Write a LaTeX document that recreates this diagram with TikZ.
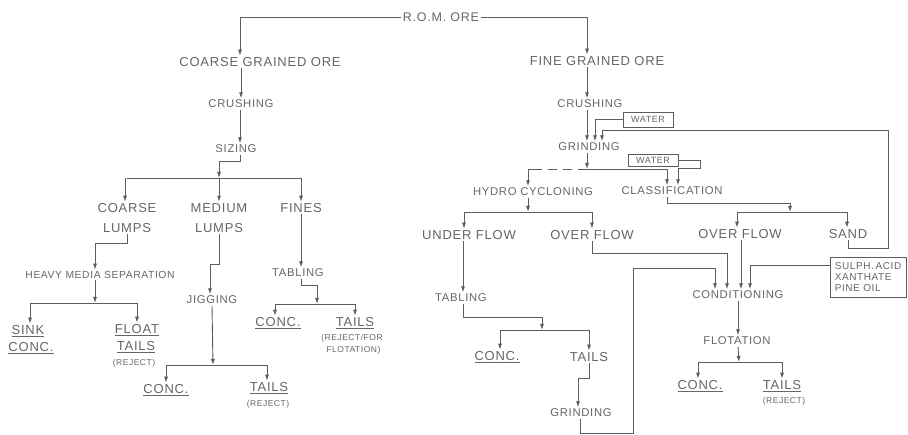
\documentclass[tikz,border=0pt]{standalone}
\usepackage{fontspec}
\setmainfont[LetterSpace=6]{Liberation Sans}
\usetikzlibrary{arrows.meta}
\definecolor{ink}{HTML}{5C5C5C}
\definecolor{txt}{HTML}{666666}
\begin{document}
\begin{tikzpicture}[x=1pt,y=-1pt,
  line/.style={draw=ink, line width=0.9pt},
  arr/.style={line, -{Latex[length=6pt,width=4pt]}},
  big/.style={text=txt, inner sep=1.5pt, align=center, font=\fontsize{13}{20}\selectfont},
  med/.style={text=txt, inner sep=1.5pt, font=\fontsize{11.3}{12}\selectfont},
  sml/.style={text=txt, inner sep=1pt, align=center, font=\fontsize{8.5}{12}\selectfont},
  wbox/.style={draw=ink, line width=0.9pt, text=txt, font=\fontsize{9}{11}\selectfont, inner sep=2pt}
]
\useasboundingbox[fill=white] (0,0) rectangle (908,435);

% ---------- nodes ----------
\node[med, font=\fontsize{12.5}{13}\selectfont] (rom) at (441,17) {R.O.M. ORE};
\node[big] (cgo) at (260,62) {COARSE GRAINED ORE};
\node[med] (crushL) at (241,104) {CRUSHING};
\node[med] (sizing) at (236,149) {SIZING};
\node[big] (coarse) at (127,218) {COARSE\\LUMPS};
\node[big] (medium) at (219,218) {MEDIUM\\LUMPS};
\node[big] (fines) at (301,208) {FINES};
\node[med, font=\fontsize{10.3}{12}\selectfont] (hms) at (100,275) {HEAVY MEDIA SEPARATION};
\node[big] (sink) at (28,331) {\underline{SINK}};
\node[big] (sinkconc) at (31,348) {\underline{CONC.}};
\node[big] (float) at (137,330) {\underline{FLOAT}};
\node[big] (floattails) at (136,347) {\underline{TAILS}};
\node[sml] (floatrej) at (134,363) {(REJECT)};
\node[med] (jigging) at (212,300) {JIGGING};
\node[big] (conc1) at (166,390) {\underline{CONC.}};
\node[big] (tails1) at (269,388) {\underline{TAILS}};
\node[sml] (rej1) at (268,404) {(REJECT)};
\node[med] (tabling1) at (298,273) {TABLING};
\node[big] (conc2) at (278,323) {\underline{CONC.}};
\node[big] (tails2) at (355,323) {\underline{TAILS}};
\node[sml] (rejfor) at (352,344) {(REJECT/FOR\\\ FLOTATION)};

\node[big] (fgo) at (597,61) {FINE GRAINED ORE};
\node[med] (crushR) at (590,104) {CRUSHING};
\node[wbox, minimum width=50pt, minimum height=15pt] (water1) at (648,119.5) {WATER};
\node[med] (grindR) at (589,147) {GRINDING};
\node[wbox, minimum width=50pt, minimum height=12pt, inner sep=1pt] (water2) at (653,160) {WATER};
\node[med] (hydro) at (533,192) {HYDRO CYCLONING};
\node[med] (classif) at (672,191) {CLASSIFICATION};
\node[big] (under) at (469,235) {UNDER FLOW};
\node[big] (overH) at (592,235) {OVER FLOW};
\node[big] (overC) at (740,234) {OVER FLOW};
\node[big] (sand) at (848,234) {SAND};
\node[med] (tabling2) at (461,298) {TABLING};
\node[big] (conc3) at (497,357) {\underline{CONC.}};
\node[big] (tails3) at (589,357) {TAILS};
\node[med] (grind2) at (581,413) {GRINDING};
\node[med] (cond) at (738,295) {CONDITIONING};
\node[wbox, align=left, minimum width=76pt, minimum height=40pt, font=\fontsize{10}{11}\selectfont] (chem) at (868,277) {SULPH.\,ACID\\XANTHATE\\PINE OIL};
\node[med] (flot2) at (737,341) {FLOTATION};
\node[big] (conc4) at (700,386) {\underline{CONC.}};
\node[big] (tails4) at (782,386) {\underline{TAILS}};
\node[sml] (rej4) at (784,401) {(REJECT)};

% ---------- junction coordinates ----------
\coordinate (sizebar) at (219,178);
\coordinate (hmsbar) at (95,303);
\coordinate (jigbar) at (213,365);
\coordinate (tabbar) at (317,304);
\coordinate (gj) at (587,169);
\coordinate (clbar) at (790,212);
\coordinate (hybar) at (528,212);
\coordinate (tabbar2) at (542,330);
\coordinate (flbar) at (739,362);
\coordinate (recyc) at (888,130);
\coordinate (gloop) at (633,433);
\coordinate (gloop2) at (715,268);
\coordinate (dashend) at (540,169);

% ---------- left branch ----------
\draw[arr] (rom.west) -| ([xshift=-20pt]cgo.north);
\draw[arr] (cgo.south -| crushL) -- (crushL.north);
\draw[arr] ([xshift=-1pt]crushL.south) -- ([xshift=-1pt]crushL.south |- sizing.north);
\draw[arr] ([xshift=-1pt]crushL.south |- sizing.south) -- ++(0,7) -| (sizebar);
\draw[line] (coarse.north |- sizebar) -- (fines.north |- sizebar);
\draw[arr] ([xshift=-2pt]coarse.north |- sizebar) -- ([xshift=-2pt]coarse.north);
\draw[arr] (sizebar) -- (medium.north);
\draw[arr] (fines.north |- sizebar) -- (fines.north);

\draw[arr] (coarse.south) -- ++(0,9) -| ([xshift=-5pt]hms.north);
\draw[arr] ([xshift=-5pt]hms.south) -- (hmsbar);
\draw[line] ([xshift=2pt]sink.north |- hmsbar) -- (float.north |- hmsbar);
\draw[arr] ([xshift=2pt]sink.north |- hmsbar) -- ([xshift=2pt]sink.north);
\draw[arr] (float.north |- hmsbar) -- (float.north);

\draw[arr] (medium.south) -- ++(0,30) -| ([xshift=-2pt]jigging.north);
\draw[arr] (jigging.south) -- (jigbar);
\draw[line] (conc1.north |- jigbar) -- ([xshift=-2pt]tails1.north |- jigbar);
\draw[arr] (conc1.north |- jigbar) -- (conc1.north);
\draw[arr] ([xshift=-2pt]tails1.north |- jigbar) -- ([xshift=-2pt]tails1.north);

\draw[arr] (fines.south) -- (fines.south |- tabling1.north);
\draw[arr] (fines.south |- tabling1.south) -- ++(0,7) -| (tabbar);
\draw[line] ([xshift=-3pt]conc2.north |- tabbar) -- (tails2.north |- tabbar);
\draw[arr] ([xshift=-3pt]conc2.north |- tabbar) -- ([xshift=-3pt]conc2.north);
\draw[arr] (tails2.north |- tabbar) -- (tails2.north);

% ---------- right branch ----------
\draw[arr] (rom.east) -| ([xshift=-10pt]fgo.north);
\draw[arr] ([xshift=-10pt]fgo.south) -- ([xshift=-10pt]fgo.south |- crushR.north);
\draw[arr] ([xshift=-3pt]crushR.south) -- ([xshift=-3pt]crushR.south |- grindR.north);
\draw[arr] (water1.west) -| ([xshift=6pt]grindR.north);
\draw[arr] (sand.south) -- ++(0,8) -| (recyc) -| ([xshift=13pt]grindR.north);

\draw[arr] ([xshift=-2pt]grindR.south) -- (gj);
\draw[line, dash pattern=on 9pt off 6pt] (gj) -- (dashend);
\draw[arr] (dashend) -| ([xshift=-5pt]hydro.north);
\draw[arr] (gj) -| ([xshift=-5pt]classif.north);
\draw[arr] (water2.east) -| (700,168) -| ([xshift=6pt]classif.north);

\draw[arr] ([xshift=-5pt]classif.south) -- ++(0,7) -| (clbar);
\draw[line] ([xshift=-3pt]overC.north |- clbar) -- ([xshift=-1pt]sand.north |- clbar);
\draw[arr] ([xshift=-3pt]overC.north |- clbar) -- ([xshift=-3pt]overC.north);
\draw[arr] ([xshift=-1pt]sand.north |- clbar) -- ([xshift=-1pt]sand.north);

\draw[arr] ([xshift=-5pt]hydro.south) -- (hybar);
\draw[line] ([xshift=-5pt]under.north |- hybar) -- (overH.north |- hybar);
\draw[arr] ([xshift=-5pt]under.north |- hybar) -- ([xshift=-5pt]under.north);
\draw[arr] (overH.north |- hybar) -- (overH.north);

\draw[arr] ([xshift=-6pt]under.south) -- ([xshift=-6pt]under.south |- tabling2.north);
\draw[arr] ([xshift=2pt]tabling2.south) -- ++(0,14) -| (tabbar2);
\draw[line] ([xshift=3pt]conc3.north |- tabbar2) -- (tails3.north |- tabbar2);
\draw[arr] ([xshift=3pt]conc3.north |- tabbar2) -- ([xshift=3pt]conc3.north);
\draw[arr] (tails3.north |- tabbar2) -- (tails3.north);
\draw[arr] (tails3.south) -- ++(0,15) -| ([xshift=-3pt]grind2.north);

\draw[arr] ([xshift=-1pt]grind2.south) |- (gloop) |- (gloop2) -- (gloop2 |- cond.north);
\draw[arr] (overH.south) -- ++(0,12) -| ([xshift=-11pt]cond.north);
\draw[arr] ([xshift=1pt]overC.south) -- ([xshift=1pt]overC.south |- cond.north);
\draw[arr] ([yshift=12pt]chem.west) -| ([xshift=12pt]cond.north);

\draw[arr] (cond.south) -- (cond.south |- flot2.north);
\draw[arr] ([xshift=1pt]flot2.south) -- (flbar);
\draw[line] ([xshift=-2pt]conc4.north |- flbar) -- (tails4.north |- flbar);
\draw[arr] ([xshift=-2pt]conc4.north |- flbar) -- ([xshift=-2pt]conc4.north);
\draw[arr] (tails4.north |- flbar) -- (tails4.north);
\end{tikzpicture}
\end{document}
